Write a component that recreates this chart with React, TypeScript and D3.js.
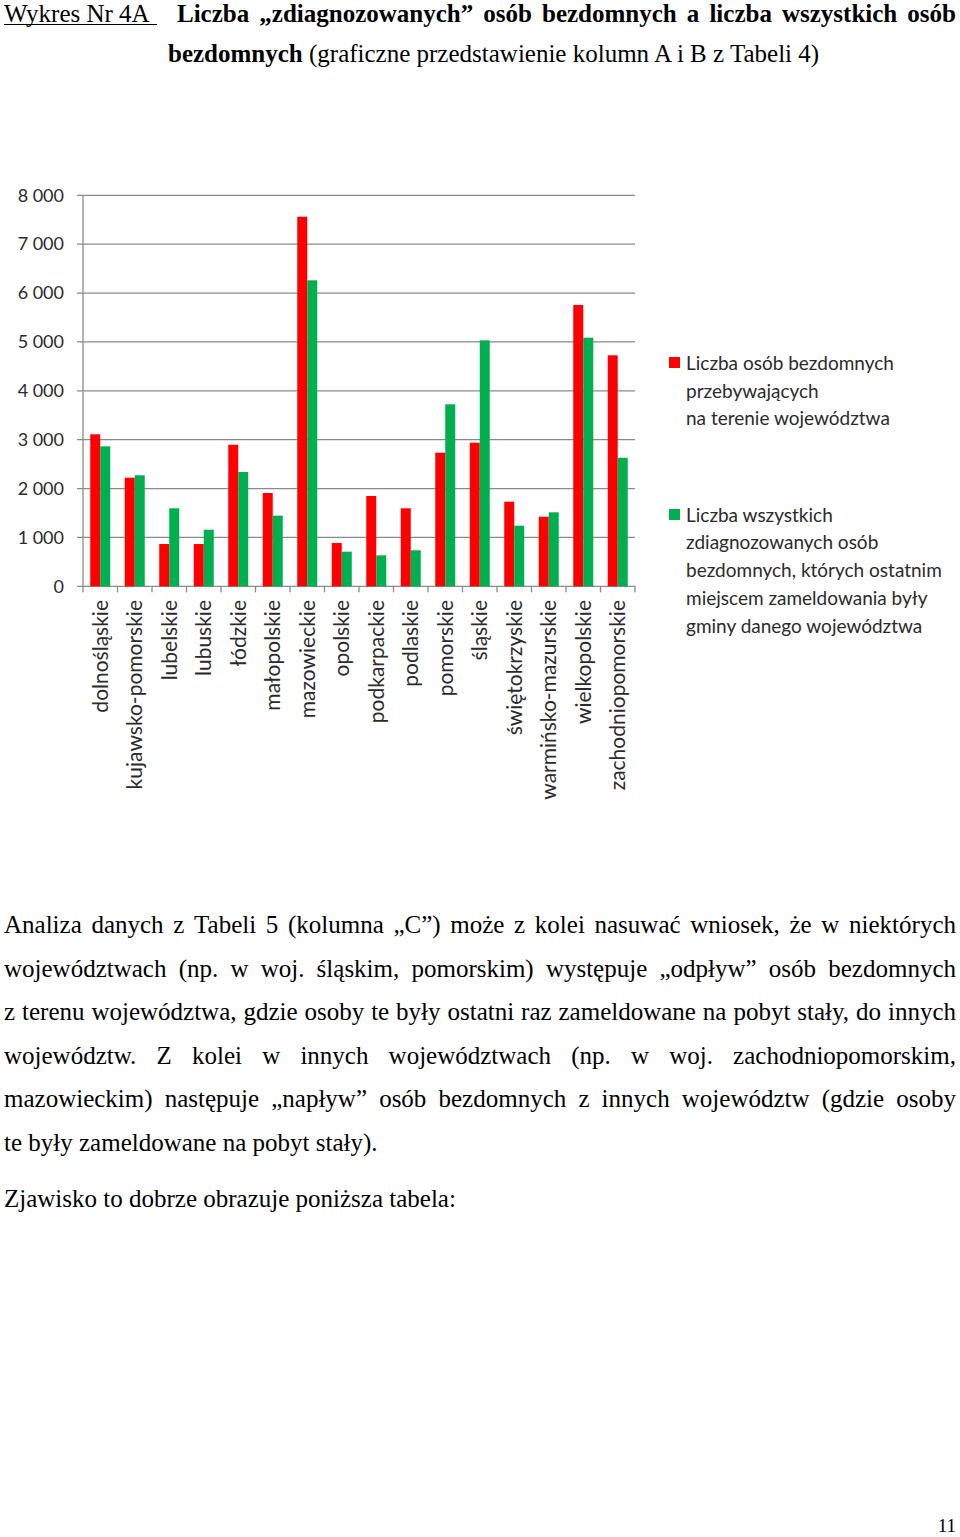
import React, { useMemo } from "react";
import * as d3 from "d3";

const categories = [
  "dolnośląskie", "kujawsko-pomorskie", "lubelskie", "lubuskie", "łódzkie",
  "małopolskie", "mazowieckie", "opolskie", "podkarpackie", "podlaskie",
  "pomorskie", "śląskie", "świętokrzyskie", "warmińsko-mazurskie",
  "wielkopolskie", "zachodniopomorskie",
];
const seriesPresent = [3110, 2222, 865, 865, 2897, 1909, 7562, 886, 1848, 1596, 2734, 2938, 1731, 1424, 5756, 4726];
const seriesDiagnosed = [2864, 2271, 1596, 1158, 2339, 1445, 6261, 708, 634, 737, 3724, 5033, 1240, 1514, 5087, 2631];
const yTicks = [0, 1000, 2000, 3000, 4000, 5000, 6000, 7000, 8000];
const seriesKeys = ["present", "diagnosed"];
const seriesColors = ["#FF0000", "#00B050"];
const legendPresent = ["Liczba osób bezdomnych", "przebywających", "na terenie województwa"];
const legendDiagnosed = [
  "Liczba wszystkich",
  "zdiagnozowanych osób",
  "bezdomnych, których ostatnim",
  "miejscem zameldowania były",
  "gminy danego województwa",
];
const titleLead = "Wykres Nr 4A";
const titleLine1 = "Liczba „zdiagnozowanych” osób bezdomnych a liczba wszystkich osób";
const titleLine2Bold = "bezdomnych";
const titleLine2Rest = "(graficzne przedstawienie kolumn A i B z Tabeli 4)";
const bodyLines = [
  "Analiza danych z Tabeli 5 (kolumna „C”) może z kolei nasuwać wniosek, że w niektórych",
  "województwach (np. w woj. śląskim, pomorskim) występuje „odpływ” osób bezdomnych",
  "z terenu województwa, gdzie osoby te były ostatni raz zameldowane na pobyt stały, do innych",
  "województw. Z kolei w innych województwach (np. w woj. zachodniopomorskim,",
  "mazowieckim) następuje „napływ” osób bezdomnych z innych województw (gdzie osoby",
  "te były zameldowane na pobyt stały).",
];
const bodyJustified = [true, true, true, true, true, false];
const closingLine = "Zjawisko to dobrze obrazuje poniższa tabela:";
const pageNumber = "11";

const SERIF = '"Liberation Serif", "Times New Roman", serif';
const SANS = 'Lato, "Open Sans", sans-serif';

let _ctx: CanvasRenderingContext2D | null = null;
function measure(text: string, font: string): number {
  if (!_ctx) {
    const c = document.createElement("canvas");
    _ctx = c.getContext("2d");
  }
  if (!_ctx) return text.length * 10;
  _ctx.font = font;
  return _ctx.measureText(text).width;
}

function justify(line: string, x0: number, x1: number, font: string) {
  const words = line.split(" ");
  const widths = words.map((w) => measure(w, font));
  const total = widths.reduce((a, b) => a + b, 0);
  const gap = words.length > 1 ? (x1 - x0 - total) / (words.length - 1) : 0;
  let x = x0;
  return words.map((w, i) => {
    const r = { word: w, x };
    x += widths[i] + gap;
    return r;
  });
}

const fmt = d3.formatLocale({ decimal: ",", thousands: " ", grouping: [3], currency: ["", ""] }).format(",");

export default function App() {
  const x = d3.scaleBand<string>().domain(categories).range([83, 635]).paddingInner(0).paddingOuter(0);
  const xSub = d3.scaleBand<string>().domain(seriesKeys).range([0, x.bandwidth()]).paddingInner(0).paddingOuter(0.725);
  const y = d3.scaleLinear().domain([0, 8000]).range([586.3, 195.3]);
  const values = [seriesPresent, seriesDiagnosed];

  const bodyFont = `25px ${SERIF}`;
  const boldFont = `bold 25px ${SERIF}`;

  const layout = useMemo(() => {
    const t1 = justify(titleLine1, 177, 956, boldFont);
    const body = bodyLines.map((l, i) => (bodyJustified[i] ? justify(l, 4, 956, bodyFont) : null));
    return { t1, body };
  }, []);

  const bodyBaselines = [933, 976.5, 1020, 1063.5, 1107, 1150.5];
  const gridColor = "#8a8a8a";
  const textColor = "#2b2b2b";
  const titleBase = 22;

  return (
    <svg width={960} height={1537} style={{ position: "absolute", left: 0, top: 0, background: "#fff" }}>
      <rect x={0} y={0} width={960} height={1537} fill="#fff" />
      {/* Title */}
      <g fontFamily={SERIF} fontSize={25} fill="#000">
        <text x={4} y={titleBase}>{titleLead}</text>
        <line x1={4} x2={157} y1={titleBase + 2.5} y2={titleBase + 2.5} stroke="#000" strokeWidth={1.2} />
        {layout.t1.map((w, i) => (
          <text key={i} x={w.x} y={titleBase} fontWeight="bold">{w.word}</text>
        ))}
        <text x={168} y={62}>
          <tspan fontWeight="bold">{titleLine2Bold}</tspan>
          <tspan> {titleLine2Rest}</tspan>
        </text>
      </g>

      {/* Chart */}
      <g>
        {yTicks.map((t) => (
          <line key={t} x1={77} x2={635} y1={y(t)} y2={y(t)} stroke={gridColor} strokeWidth={1.3} />
        ))}
        <line x1={83} x2={83} y1={y(8000)} y2={y(0)} stroke={gridColor} strokeWidth={1.3} />
        {categories.map((c) => (
          <line key={c} x1={x(c)!} x2={x(c)!} y1={y(0)} y2={y(0) + 6} stroke={gridColor} strokeWidth={1.3} />
        ))}
        <line x1={635} x2={635} y1={y(0)} y2={y(0) + 6} stroke={gridColor} strokeWidth={1.3} />
        {categories.map((c, i) =>
          seriesKeys.map((k, s) => (
            <rect
              key={c + k}
              x={(x(c) as number) + (xSub(k) as number)}
              y={y(values[s][i])}
              width={xSub.bandwidth()}
              height={y(0) - y(values[s][i])}
              fill={seriesColors[s]}
            />
          ))
        )}
        <g fontFamily={SANS} fontSize={18} fill={textColor}>
          {yTicks.map((t) => (
            <text key={t} x={64} y={y(t)} dy="0.35em" textAnchor="end">{fmt(t)}</text>
          ))}
        </g>
        <g fontFamily={SANS} fontSize={21} fill={textColor}>
          {categories.map((c) => {
            const cx = (x(c) as number) + x.bandwidth() / 2;
            return (
              <text key={c} transform={`translate(${cx + 7.5},600) rotate(-90)`} textAnchor="end">{c}</text>
            );
          })}
        </g>
        {/* Legend */}
        <g fontFamily={SANS} fontSize={19} fill={textColor}>
          <rect x={669} y={357} width={11} height={11} fill={seriesColors[0]} />
          {legendPresent.map((l, i) => (
            <text key={l} x={686} y={370 + i * 27.7}>{l}</text>
          ))}
          <rect x={669} y={509} width={11} height={11} fill={seriesColors[1]} />
          {legendDiagnosed.map((l, i) => (
            <text key={l} x={686} y={521.5 + i * 27.8}>{l}</text>
          ))}
        </g>
      </g>

      {/* Body text */}
      <g fontFamily={SERIF} fontSize={25} fill="#000">
        {bodyLines.map((l, i) =>
          layout.body[i] ? (
            <g key={i}>
              {layout.body[i]!.map((w, j) => (
                <text key={j} x={w.x} y={bodyBaselines[i]}>{w.word}</text>
              ))}
            </g>
          ) : (
            <text key={i} x={4} y={bodyBaselines[i]}>{l}</text>
          )
        )}
        <text x={4} y={1207}>{closingLine}</text>
        <text x={956} y={1532} fontSize={19} textAnchor="end">{pageNumber}</text>
      </g>
    </svg>
  );
}
